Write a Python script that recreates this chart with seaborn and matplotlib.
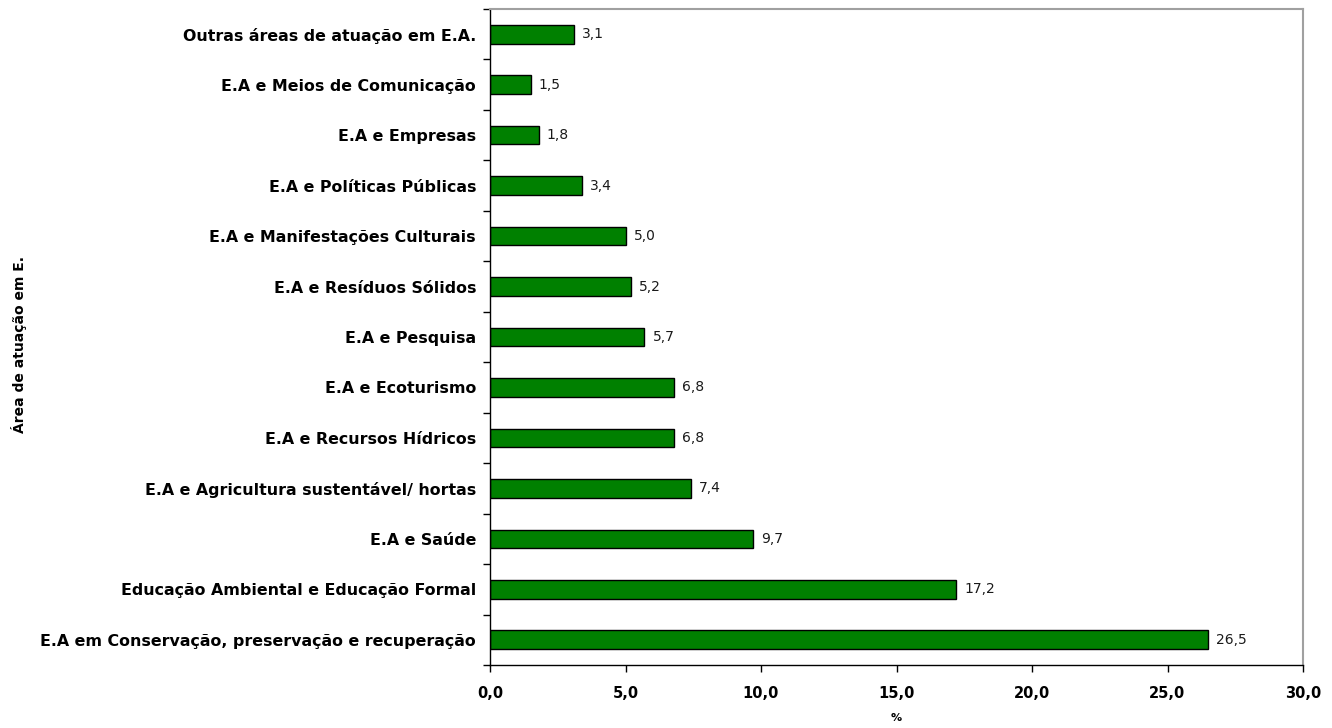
import matplotlib
matplotlib.use("Agg")
import matplotlib.pyplot as plt
import seaborn as sns
import pandas as pd
from matplotlib.transforms import Bbox
from matplotlib.ticker import FixedLocator

categorias = [
    "Outras áreas de atuação em E.A.",
    "E.A e Meios de Comunicação",
    "E.A e Empresas",
    "E.A e Políticas Públicas",
    "E.A e Manifestações Culturais",
    "E.A e Resíduos Sólidos",
    "E.A e Pesquisa",
    "E.A e Ecoturismo",
    "E.A e Recursos Hídricos",
    "E.A e Agricultura sustentável/ hortas",
    "E.A e Saúde",
    "Educação Ambiental e Educação Formal",
    "E.A em Conservação, preservação e recuperação",
]
percentuais = [3.1, 1.5, 1.8, 3.4, 5.0, 5.2, 5.7, 6.8, 6.8, 7.4, 9.7, 17.2, 26.5]
x_ticks = [0, 5, 10, 15, 20, 25, 30]

df = pd.DataFrame({"area": categorias, "pct": percentuais})

sns.set_style("white")
plt.rcParams["font.family"] = ["DejaVu Sans"]
for key in ("text.color", "axes.labelcolor", "xtick.color", "ytick.color"):
    plt.rcParams[key] = "black"

W, H = 1332, 728
fig = plt.figure(figsize=(W / 100, H / 100), dpi=100)
ax = fig.add_axes([490 / W, 1 - 665 / H, (1303 - 490) / W, (665 - 9) / H])

sns.barplot(data=df, x="pct", y="area", orient="h", color="#008000",
            saturation=1, width=0.37, edgecolor="black", linewidth=1.0, ax=ax)

ax.set_xlim(0, 30)
ax.set_ylim(len(categorias) - 0.5, -0.5)

# value labels with comma decimals
for i, v in enumerate(percentuais):
    ax.text(v + 0.3, i, f"{v:.1f}".replace(".", ","), va="center", ha="left",
            fontsize=10, color="#1a1a1a")

# x axis
ax.set_xticks(x_ticks)
ax.set_xticklabels([f"{t:.1f}".replace(".", ",") for t in x_ticks],
                   fontsize=10.5, fontweight="bold")
ax.tick_params(axis="x", direction="out", length=5, width=1, color="black",
               pad=10, bottom=True)
ax.set_xlabel("%", fontsize=8, fontweight="bold", labelpad=9)

# y axis: labels at category centers, tick marks at category boundaries
ax.set_yticks(range(len(categorias)))
ax.set_yticklabels(categorias, fontsize=11.4, fontweight="bold")
ax.tick_params(axis="y", which="major", length=0, pad=10)
ax.yaxis.set_minor_locator(FixedLocator([i - 0.5 for i in range(len(categorias) + 1)]))
ax.tick_params(axis="y", which="minor", direction="out", length=5, width=1,
               color="black", left=True)
ax.set_ylabel("")

for side in ("left", "bottom"):
    ax.spines[side].set_color("black")
    ax.spines[side].set_linewidth(1.0)
for side in ("top", "right"):
    ax.spines[side].set_color("#a0a0a0")
    ax.spines[side].set_linewidth(1.5)

# vertical axis title, cut at the top edge of its box
t = fig.text(19 / W, 1 - 339 / H, "Área de atuação em E.A", rotation=90,
             ha="center", va="center", fontsize=10, fontweight="bold")
t.set_clip_box(Bbox.from_extents(0, 0, 60, H - 258))
t.set_clip_on(True)

fig.savefig("out.png", dpi=100)
